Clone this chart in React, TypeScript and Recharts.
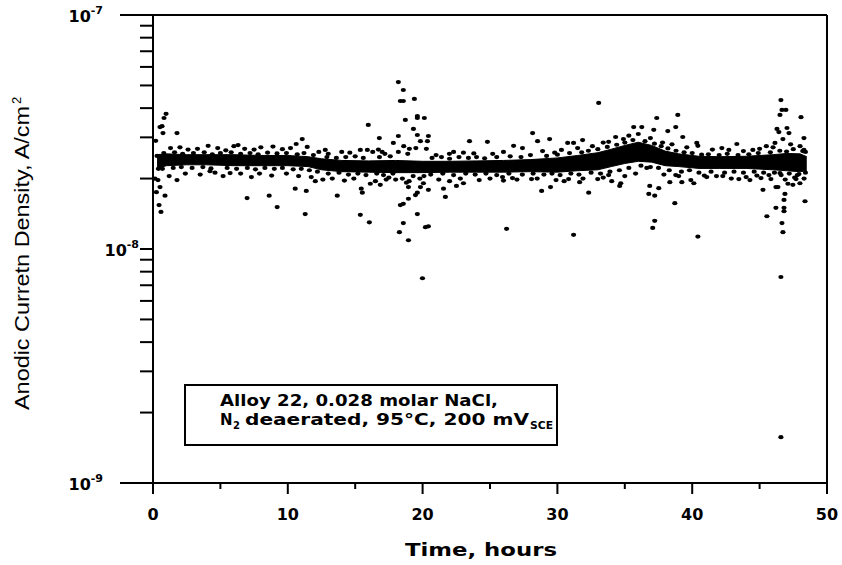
import React from "react";
import { ComposedChart, Area, Scatter, XAxis, YAxis, ReferenceLine } from "recharts";

// current density values are in units of 1e-8 A/cm2, time in hours

// dense core of the record (lower / upper edge)
const bandHours = [0.3, 1, 2.5, 4, 6, 8, 10, 11.5, 12.5, 14, 16, 18, 20, 22, 24, 26, 28, 30, 31.5, 33, 34, 35, 36, 37, 38, 39, 40.5, 42, 44, 46, 47, 48, 48.5];
const bandLow = [2.21, 2.27, 2.29, 2.29, 2.27, 2.27, 2.27, 2.25, 2.18, 2.14, 2.13, 2.12, 2.12, 2.13, 2.13, 2.13, 2.14, 2.13, 2.16, 2.18, 2.25, 2.32, 2.37, 2.35, 2.27, 2.25, 2.21, 2.21, 2.21, 2.18, 2.16, 2.14, 2.16];
const bandHigh = [2.53, 2.55, 2.53, 2.53, 2.53, 2.51, 2.51, 2.48, 2.43, 2.39, 2.38, 2.39, 2.37, 2.37, 2.38, 2.39, 2.41, 2.45, 2.51, 2.58, 2.67, 2.77, 2.86, 2.77, 2.62, 2.55, 2.49, 2.48, 2.49, 2.53, 2.56, 2.55, 2.48];

// ragged edge of the core
const edgeHigh: [number, number][] = [
  [0.8, 2.57], [1.6, 2.59], [2.2, 2.55], [3.0, 2.57], [3.8, 2.59], [4.4, 2.54], [5.0, 2.57], [5.8, 2.59],
  [6.5, 2.55], [7.2, 2.57], [7.8, 2.54], [8.5, 2.58], [9.2, 2.56], [9.9, 2.57], [10.7, 2.54], [11.2, 2.57],
  [11.9, 2.52], [12.9, 2.47], [13.6, 2.45], [14.3, 2.47], [15.0, 2.49], [15.6, 2.45], [16.8, 2.47], [17.6, 2.49],
  [20.7, 2.45], [21.4, 2.47], [22.0, 2.43], [22.7, 2.47], [23.4, 2.45], [24.0, 2.47], [24.6, 2.44], [25.5, 2.47],
  [26.5, 2.49], [27.3, 2.47], [28.0, 2.52], [29.2, 2.5], [30.0, 2.53], [30.9, 2.57], [31.8, 2.59], [32.3, 2.63],
  [33.0, 2.67], [33.7, 2.73], [34.4, 2.79], [35.0, 2.85], [35.6, 2.92], [36.5, 2.89], [37.2, 2.82], [37.7, 2.75],
  [38.2, 2.69], [38.8, 2.63], [39.4, 2.59], [40.0, 2.57], [40.7, 2.53], [41.2, 2.54], [42.0, 2.52], [42.6, 2.55],
  [43.4, 2.52], [44.2, 2.54], [44.9, 2.57], [45.8, 2.59], [46.5, 2.63], [47.0, 2.61], [47.5, 2.67], [48.2, 2.62],
];
const edgeLow: [number, number][] = [
  [0.7, 2.2], [1.5, 2.22], [2.1, 2.24], [2.9, 2.22], [3.7, 2.24], [4.3, 2.21], [5.5, 2.22], [6.2, 2.2],
  [7.0, 2.22], [7.6, 2.19], [8.3, 2.22], [9.0, 2.2], [9.6, 2.22], [10.4, 2.19], [11.0, 2.2], [11.6, 2.17],
  [12.2, 2.14], [13.0, 2.1], [13.8, 2.12], [14.5, 2.08], [15.2, 2.1], [15.8, 2.07], [16.6, 2.1], [17.1, 2.07],
  [17.8, 2.1], [20.6, 2.08], [21.5, 2.1], [22.3, 2.07], [23.2, 2.1], [23.9, 2.08], [24.7, 2.1], [25.5, 2.07],
  [26.4, 2.1], [27.4, 2.08], [28.2, 2.1], [29.0, 2.08], [29.6, 2.1], [30.2, 2.07], [31.0, 2.1], [31.6, 2.08],
  [32.5, 2.12], [33.2, 2.1], [33.9, 2.14], [34.6, 2.17], [35.3, 2.22], [36.2, 2.27], [36.9, 2.24], [37.5, 2.22],
  [38.3, 2.17], [39.2, 2.14], [39.8, 2.17], [40.5, 2.12], [41.4, 2.14], [42.4, 2.12], [43.1, 2.14], [43.8, 2.12],
  [44.6, 2.14], [45.3, 2.12], [46.1, 2.12], [46.6, 2.07], [47.2, 2.1], [47.8, 2.07], [48.4, 2.12],
];

// points just above / below the core
const fringeHigh: [number, number][] = [
  [1.3, 2.7], [2.0, 2.72], [2.6, 2.66], [3.3, 2.68], [4.8, 2.7], [5.4, 2.64], [6.0, 2.75], [6.8, 2.68],
  [7.5, 2.66], [8.0, 2.72], [8.9, 2.74], [9.6, 2.67], [10.2, 2.7], [12.3, 2.6], [13.0, 2.55], [14.0, 2.6],
  [14.6, 2.58], [16.3, 2.6], [17.2, 2.55], [21.0, 2.52], [22.3, 2.6], [23.8, 2.56], [25.2, 2.55], [26.0, 2.6],
  [28.9, 2.62], [29.8, 2.58], [30.3, 2.65], [31.5, 2.7], [32.6, 2.75], [33.4, 2.85], [34.9, 2.95], [35.3, 3.05],
  [36.0, 3.1], [36.9, 2.98], [37.8, 2.85], [38.5, 2.8], [39.6, 2.72], [41.5, 2.66], [42.2, 2.7], [43.8, 2.62],
  [45.0, 2.68], [45.5, 2.75], [46.0, 2.72], [47.3, 2.8], [48.0, 2.75], [48.4, 2.6],
];
const fringeLow: [number, number][] = [
  [1.2, 2.05], [2.4, 2.1], [3.5, 2.08], [4.6, 2.12], [5.2, 2.05], [6.5, 2.1], [7.3, 2.03], [7.9, 2.1],
  [8.8, 2.06], [9.9, 2.1], [10.8, 2.05], [12.6, 1.98], [13.3, 2.0], [14.2, 1.96], [14.9, 2.0], [16.5, 1.95],
  [17.3, 1.98], [21.2, 1.98], [22.0, 1.95], [22.8, 2.0], [24.2, 1.97], [25.0, 2.0], [26.0, 1.96], [27.0, 1.98],
  [28.5, 2.0], [29.9, 1.97], [30.5, 1.95], [31.9, 2.0], [33.4, 2.02], [35.0, 2.05], [35.8, 2.1], [37.9, 2.08],
  [39.0, 2.05], [40.9, 2.06], [41.8, 2.05], [42.9, 2.0], [44.0, 2.03], [44.8, 2.06], [46.9, 1.98], [47.6, 2.02],
  [48.3, 2.0],
];

// scattered readings away from the core
const outliers: [number, number][] = [
  [0.15, 2.0], [0.2, 2.9], [0.25, 1.75], [0.3, 2.5], [0.37, 1.97], [0.4, 2.2], [0.45, 1.54], [0.52, 1.84],
  [0.52, 3.32], [0.59, 1.44], [0.67, 3.35], [0.74, 3.13], [0.82, 3.63], [0.89, 1.69], [0.97, 3.78], [1.78, 3.13],
  [1.78, 1.97], [4.09, 2.76], [4.23, 2.15], [5.72, 2.11], [6.31, 2.78], [6.98, 1.65], [8.62, 1.69], [9.21, 1.51],
  [10.55, 1.81], [10.62, 2.81], [11.07, 2.95], [11.29, 1.41], [11.37, 1.77], [11.44, 2.73], [11.74, 2.03], [12.04, 1.95],
  [12.78, 2.65], [13.67, 1.69], [15.38, 2.65], [15.38, 1.4], [15.45, 1.81], [15.53, 1.74], [15.9, 2.65], [15.97, 3.39],
  [16.05, 1.3], [16.12, 1.9], [16.72, 2.66], [16.79, 2.98], [16.86, 1.88], [17.0, 2.6], [17.5, 2.02], [17.83, 2.84],
  [18.0, 1.98], [18.2, 5.17], [18.2, 3.04], [18.2, 2.6], [18.28, 1.18], [18.35, 4.29], [18.35, 1.54], [18.5, 2.0],
  [18.57, 4.78], [18.57, 4.29], [18.57, 1.56], [18.57, 1.29], [18.6, 2.75], [18.72, 3.56], [18.8, 1.92], [18.9, 2.55],
  [18.95, 1.84], [18.95, 1.64], [18.95, 1.09], [19.0, 1.95], [19.02, 2.68], [19.3, 2.05], [19.32, 3.26], [19.39, 4.38],
  [19.47, 1.7], [19.5, 2.7], [19.61, 3.7], [19.61, 3.63], [19.61, 3.07], [19.61, 1.74], [19.61, 1.41], [19.8, 2.0],
  [19.84, 2.89], [19.84, 1.84], [19.99, 0.75], [20.06, 1.91], [20.1, 2.05], [20.13, 3.63], [20.21, 1.24], [20.28, 2.68],
  [20.36, 2.89], [20.43, 3.04], [20.43, 1.79], [20.43, 1.25], [21.55, 1.81], [21.69, 1.67], [21.99, 2.55], [22.51, 1.86],
  [23.03, 2.58], [23.03, 1.91], [23.48, 2.89], [24.81, 2.87], [25.93, 2.03], [26.23, 1.22], [26.67, 2.01], [26.75, 2.76],
  [27.41, 2.7], [28.08, 1.99], [28.16, 3.13], [28.53, 2.89], [28.83, 1.77], [29.42, 2.95], [29.49, 1.84], [30.76, 2.84],
  [30.83, 1.99], [31.2, 2.84], [31.2, 1.15], [31.65, 1.93], [31.87, 2.92], [32.32, 1.74], [32.99, 1.99], [33.06, 4.21],
  [33.8, 2.87], [33.8, 2.07], [34.03, 1.95], [34.32, 3.01], [34.62, 1.86], [34.7, 1.91], [35.66, 3.32], [36.26, 3.32],
  [36.63, 2.22], [36.78, 1.72], [36.85, 1.86], [37.07, 1.23], [37.15, 3.23], [37.22, 1.69], [37.22, 1.32], [37.37, 3.63],
  [37.52, 1.82], [38.19, 3.19], [38.34, 1.93], [38.71, 1.57], [38.78, 3.32], [38.78, 2.07], [38.93, 3.74], [39.23, 1.93],
  [39.3, 3.01], [39.9, 1.97], [40.12, 1.91], [40.34, 2.84], [40.42, 2.76], [40.42, 1.13], [41.08, 2.03], [42.27, 2.05],
  [42.72, 2.65], [43.31, 2.81], [43.46, 1.99], [44.28, 1.97], [44.5, 2.65], [45.1, 2.01], [45.25, 1.79], [45.54, 1.38],
  [45.69, 2.07], [45.84, 1.99], [46.14, 2.84], [46.21, 1.84], [46.21, 1.5], [46.29, 3.26], [46.36, 1.84], [46.43, 3.16],
  [46.51, 3.74], [46.51, 2.11], [46.58, 4.33], [46.58, 0.759], [46.58, 0.157], [46.66, 3.93], [46.66, 1.29], [46.73, 2.95],
  [46.73, 1.18], [46.81, 1.62], [46.81, 1.5], [46.81, 1.45], [46.88, 1.72], [46.95, 3.93], [47.03, 3.29], [47.1, 1.9],
  [47.18, 3.13], [47.47, 1.88], [47.7, 1.99], [47.92, 2.09], [47.99, 1.91], [48.07, 3.66], [48.07, 2.3], [48.29, 2.98],
  [48.29, 2.65], [48.37, 1.6],
];

const xTicks = [0, 5, 10, 15, 20, 25, 30, 35, 40, 45, 50];
const yTicks = [
  1e-9, 2e-9, 3e-9, 4e-9, 5e-9, 6e-9, 7e-9, 8e-9, 9e-9,
  1e-8, 2e-8, 3e-8, 4e-8, 5e-8, 6e-8, 7e-8, 8e-8, 9e-8, 1e-7,
];

const FONT = "'DejaVu Sans', Verdana, sans-serif";

const bandData = bandHours.map((t, i) => ({ t, range: [bandLow[i] * 1e-8, bandHigh[i] * 1e-8] }));
const toPoints = (list: [number, number][]) => list.map(([t, v]) => ({ t, v: v * 1e-8 }));
const dotData = [
  ...toPoints(edgeHigh),
  ...toPoints(edgeLow),
  ...toPoints(fringeHigh),
  ...toPoints(fringeLow),
  ...toPoints(outliers),
];

const Dot = (props: any) => {
  if (props.cx == null || props.cy == null) return null;
  return <ellipse cx={props.cx} cy={props.cy} rx={2.6} ry={2.1} fill="#000" />;
};

const YTick = (props: any) => {
  const { x, y, payload } = props;
  const v: number = payload.value;
  const exp = Math.round(Math.log10(v));
  const decade = Math.abs(v / Math.pow(10, exp) - 1) < 1e-6;
  // the 1e-8 label sits close to the axis in the original
  const len = decade && exp !== -8 ? 33 : 13;
  const labelX = exp === -8 ? x - 14 : x - 50;
  return (
    <g>
      <line x1={x} x2={x - len} y1={y} y2={y} stroke="#000" strokeWidth={2} />
      {decade && (
        <text x={labelX} y={y + 7} textAnchor="end" fontFamily={FONT} fontWeight="bold" fontSize={16} fill="#000">
          10
          <tspan dy={-8} fontSize={11}>{exp}</tspan>
        </text>
      )}
    </g>
  );
};

const XTick = (props: any) => {
  const { x, y, payload } = props;
  const major = payload.value % 10 === 0;
  return (
    <g>
      <line x1={x} x2={x} y1={y} y2={y + (major ? 11 : 6)} stroke="#000" strokeWidth={2} />
      {major && (
        <text x={x} y={y + 37} textAnchor="middle" fontFamily={FONT} fontWeight="bold" fontSize={16} fill="#000">
          {payload.value}
        </text>
      )}
    </g>
  );
};

export default function App() {
  return (
    <div style={{ position: "absolute", left: 0, top: 0, width: 842, height: 565, background: "#fff" }}>
      <ComposedChart width={842} height={565} data={bandData} margin={{ top: 15, right: 15, bottom: 0, left: 0 }}>
        <XAxis
          type="number"
          dataKey="t"
          domain={[0, 50]}
          ticks={xTicks}
          interval={0}
          tick={<XTick />}
          tickSize={0}
          tickMargin={0}
          tickLine={false}
          axisLine={{ stroke: "#000", strokeWidth: 2 }}
          height={82}
          allowDataOverflow
        />
        <YAxis
          type="number"
          dataKey="v"
          scale="log"
          domain={[1e-9, 1e-7]}
          ticks={yTicks}
          interval={0}
          tick={<YTick />}
          tickSize={0}
          tickMargin={0}
          tickLine={false}
          axisLine={{ stroke: "#000", strokeWidth: 2 }}
          width={153}
          allowDataOverflow
        />
        <ReferenceLine y={1e-7} stroke="#000" strokeWidth={2} />
        <ReferenceLine x={50} stroke="#000" strokeWidth={2} />
        <Area type="linear" dataKey="range" fill="#000" fillOpacity={1} stroke="#000" strokeWidth={1} isAnimationActive={false} />
        <Scatter data={dotData} dataKey="v" shape={<Dot />} isAnimationActive={false} />
      </ComposedChart>
      <svg width={842} height={565} style={{ position: "absolute", left: 0, top: 0, pointerEvents: "none" }}>
        <g transform="translate(29,410) rotate(-90)">
          <text x={0} y={0} fontFamily="'Liberation Sans', Arial, sans-serif" fontSize={20} textLength={304} lengthAdjust="spacingAndGlyphs" fill="#000">
            Anodic Curretn Density, A/cm
          </text>
          <text x={306} y={-8} fontFamily="'Liberation Sans', Arial, sans-serif" fontSize={13} fill="#000">2</text>
        </g>
        <text x={405} y={556} fontFamily={FONT} fontWeight="bold" fontSize={18} textLength={152} lengthAdjust="spacingAndGlyphs" fill="#000">
          Time, hours
        </text>
        <rect x={185} y={385} width={372} height={60} fill="#fff" stroke="#000" strokeWidth={2} />
        <text x={220} y={406} fontFamily={FONT} fontWeight="bold" fontSize={15} textLength={278} lengthAdjust="spacingAndGlyphs" fill="#000">
          Alloy 22, 0.028 molar NaCl,
        </text>
        <text x={220} y={425} fontFamily={FONT} fontWeight="bold" fontSize={15} fill="#000">N</text>
        <text x={233} y={429} fontFamily={FONT} fontWeight="bold" fontSize={10} fill="#000">2</text>
        <text x={245} y={425} fontFamily={FONT} fontWeight="bold" fontSize={15} textLength={284} lengthAdjust="spacingAndGlyphs" fill="#000">
          deaerated, 95°C, 200 mV
        </text>
        <text x={530} y={429} fontFamily={FONT} fontWeight="bold" fontSize={10} textLength={23} lengthAdjust="spacingAndGlyphs" fill="#000">
          SCE
        </text>
      </svg>
    </div>
  );
}
